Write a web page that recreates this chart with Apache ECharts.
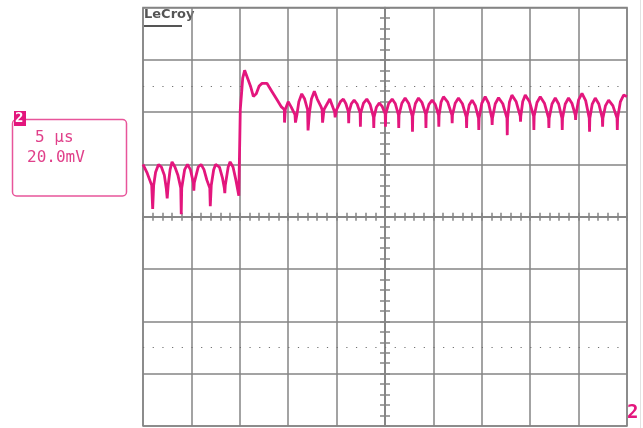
<!DOCTYPE html>
<html>
<head>
<meta charset="utf-8">
<script src="https://cdn.jsdelivr.net/npm/echarts@6/dist/echarts.min.js"></script>
<style>
  html, body { margin: 0; padding: 0; background: #fff; }
  #chart { width: 643px; height: 428px; }
</style>
</head>
<body>
<div id="chart"></div>
<script>
// time in µs from the left edge of the screen, voltage in mV (5 µs/div, 20.0 mV/div)
const rippleBefore = [
  [0.0, 20], [0.4, 17], [0.7, 14], [0.9, 12], [1.0, 3], [1.1, 12], [1.3, 17], [1.6, 20],
  [1.9, 19], [2.2, 16], [2.4, 11], [2.5, 7], [2.6, 12], [2.8, 18], [3.0, 21],
  [3.3, 19], [3.6, 16], [3.9, 11], [3.95, 1], [4.0, 11], [4.3, 18], [4.6, 20],
  [4.9, 18], [5.2, 13], [5.25, 10], [5.3, 13], [5.5, 16], [5.7, 19], [6.0, 20],
  [6.3, 18], [6.6, 14], [6.9, 11], [6.95, 4], [7.05, 12], [7.3, 18], [7.5, 20],
  [7.9, 19], [8.2, 15], [8.4, 11], [8.45, 9], [8.5, 12], [8.8, 19], [9.0, 21],
  [9.3, 19], [9.6, 14], [9.9, 8]
];

const stepEdge = [
  [9.95, 20], [10.0, 30], [10.05, 41], [10.2, 48], [10.3, 53], [10.5, 56], [10.7, 54],
  [11.1, 50], [11.4, 46], [11.7, 47], [12.0, 50], [12.3, 51], [12.8, 51], [13.3, 48],
  [13.8, 45], [14.3, 42], [14.6, 41], [14.62, 36], [14.7, 41], [15.0, 44], [15.3, 42],
  [15.7, 39], [15.75, 36], [15.9, 39], [16.1, 44], [16.4, 47], [16.7, 45], [17.0, 41],
  [17.05, 33], [17.2, 40], [17.4, 45], [17.7, 48], [18.0, 45], [18.4, 42], [18.5, 41],
  [18.55, 36], [18.7, 41], [19.0, 43], [19.3, 45], [19.5, 43], [19.8, 40], [19.85, 38],
  [20.0, 41], [20.4, 44], [20.7, 45]
];

const rippleAfter = [
  [20.96, 43.2], [21.22, 40.0], [21.25, 35.8], [21.28, 40.0], [21.52, 43.2], [21.81, 44.6],
  [22.12, 43.1], [22.43, 39.7], [22.46, 34.4], [22.49, 39.7], [22.78, 43.4], [23.12, 45.0],
  [23.47, 42.9], [23.81, 38.1], [23.84, 33.9], [23.87, 38.1], [24.11, 41.9], [24.40, 43.5],
  [24.71, 42.2], [25.02, 39.3], [25.05, 34.4], [25.08, 39.3], [25.38, 43.3], [25.74, 45.0],
  [26.07, 43.2], [26.39, 38.9], [26.42, 33.9], [26.45, 38.9], [26.74, 43.4], [27.08, 45.4],
  [27.45, 43.3], [27.81, 38.5], [27.84, 32.5], [27.87, 38.5], [28.14, 43.3], [28.46, 45.4],
  [28.83, 43.6], [29.20, 39.3], [29.23, 33.9], [29.26, 39.3], [29.54, 43.0], [29.87, 44.6],
  [30.20, 42.9], [30.53, 38.9], [30.56, 34.4], [30.59, 38.9], [30.79, 43.8], [31.04, 45.9],
  [31.48, 43.8], [31.91, 38.9], [31.94, 35.8], [31.97, 38.9], [32.25, 43.4], [32.59, 45.4],
  [33.00, 43.2], [33.40, 38.1], [33.43, 33.9], [33.46, 38.1], [33.70, 42.7], [34.00, 44.6],
  [34.33, 42.5], [34.66, 37.7], [34.69, 33.2], [34.72, 37.7], [35.00, 43.4], [35.35, 45.9],
  [35.70, 43.4], [36.04, 37.7], [36.07, 35.1], [36.10, 37.7], [36.39, 43.2], [36.73, 45.5],
  [37.17, 43.2], [37.60, 37.7], [37.63, 31.2], [37.66, 37.7], [37.86, 43.9], [38.11, 46.5],
  [38.54, 44.1], [38.97, 38.5], [39.00, 36.3], [39.03, 38.5], [39.23, 44.1], [39.49, 46.5],
  [39.92, 44.1], [40.35, 38.5], [40.38, 33.2], [40.41, 38.5], [40.70, 43.7], [41.04, 45.9],
  [41.47, 43.4], [41.90, 37.7], [41.93, 33.9], [41.96, 37.7], [42.25, 43.1], [42.59, 45.4],
  [42.94, 43.1], [43.28, 37.7], [43.31, 33.2], [43.34, 37.7], [43.62, 43.1], [43.96, 45.4],
  [44.31, 43.4], [44.66, 38.9], [44.69, 37.0], [44.72, 38.9], [45.00, 44.7], [45.35, 47.2],
  [45.73, 44.4], [46.10, 37.7], [46.13, 32.5], [46.16, 37.7], [46.41, 43.1], [46.72, 45.4],
  [47.09, 43.1], [47.45, 37.7], [47.48, 34.4], [47.51, 37.7], [47.78, 42.5], [48.10, 44.6],
  [48.54, 42.5], [48.97, 37.7], [49.00, 33.2], [49.03, 37.7], [49.31, 43.9], [49.65, 46.5],
  [50.00, 46.0]
];

// dotted cursor levels (mV)
const cursorLevels = [50, -50];

const timeSpan = 50;   // 10 div x 5 µs
const voltSpan = 160;  // 8 div x 20 mV

const PINK = '#e3167d';
const GRAY = '#858585';

// screen is centred on 0 so the crosshair axes sit in the middle
const trace = rippleBefore.concat(stepEdge, rippleAfter)
  .map(p => [p[0] - timeSpan / 2, p[1]]);

function crossAxis(pos, withSplit, tickLen) {
  return {
    type: 'value',
    position: pos,
    splitLine: { show: withSplit, lineStyle: { color: GRAY, width: 1.5 } },
    axisLine: { show: true, onZero: true, lineStyle: { color: GRAY, width: 1.5 } },
    axisTick: { show: true, inside: false, length: tickLen, lineStyle: { color: GRAY, width: 1.5 } },
    minorTick: { show: true, splitNumber: 5, length: tickLen, lineStyle: { color: GRAY, width: 1.5 } },
    axisLabel: { show: false }
  };
}

const chart = echarts.init(document.getElementById('chart'));

chart.setOption({
  animation: false,
  backgroundColor: '#fff',
  grid: {
    left: 143, top: 7.5, right: 16, bottom: 2,
    show: true, borderColor: GRAY, borderWidth: 1.5
  },
  xAxis: [
    Object.assign(crossAxis('bottom', true, 4), { min: -timeSpan / 2, max: timeSpan / 2, interval: 5 }),
    Object.assign(crossAxis('top', false, 4), { min: -timeSpan / 2, max: timeSpan / 2, interval: 5 })
  ],
  yAxis: [
    Object.assign(crossAxis('left', true, 5), { min: -voltSpan / 2, max: voltSpan / 2, interval: 20 }),
    Object.assign(crossAxis('right', false, 5), { min: -voltSpan / 2, max: voltSpan / 2, interval: 20 })
  ],
  series: [{
    type: 'line',
    xAxisIndex: 0,
    yAxisIndex: 0,
    data: trace,
    showSymbol: false,
    smooth: false,
    lineStyle: { color: PINK, width: 2.8 },
    markLine: {
      silent: true,
      symbol: 'none',
      label: { show: false },
      lineStyle: { color: '#707070', width: 1, type: [1.2, 8.48] },
      data: cursorLevels.map(v => ({ yAxis: v }))
    },
    z: 5
  }],
  graphic: [
    { type: 'text', left: 144, top: 8,
      style: { text: 'LeCroy', font: 'bold 13px "DejaVu Sans"', fill: '#555' } },
    { type: 'rect', shape: { x: 144, y: 25, width: 38, height: 2 }, style: { fill: '#555' } },
    { type: 'rect', shape: { x: 12.5, y: 119.5, width: 114, height: 76.5, r: 4 },
      style: { fill: '#fff', stroke: '#e8559a', lineWidth: 1.5 } },
    { type: 'rect', shape: { x: 14, y: 111, width: 12, height: 15 }, style: { fill: PINK } },
    { type: 'text', x: 15, y: 111,
      style: { text: '2', font: 'bold 14px "DejaVu Sans Mono"', fill: '#fff' } },
    { type: 'text', x: 35, y: 130,
      style: { text: '5 µs', font: '16px "DejaVu Sans Mono"', fill: '#e0408a' } },
    { type: 'text', x: 27, y: 150,
      style: { text: '20.0mV', font: '16px "DejaVu Sans Mono"', fill: '#e0408a' } },
    { type: 'text', x: 627, y: 404,
      style: { text: '2', font: 'bold 19px "DejaVu Sans Mono"', fill: PINK } },
    { type: 'line', shape: { x1: 640.5, y1: 0, x2: 640.5, y2: 428 },
      style: { stroke: '#e2e2e2', lineWidth: 1 } }
  ]
});
</script>
</body>
</html>
